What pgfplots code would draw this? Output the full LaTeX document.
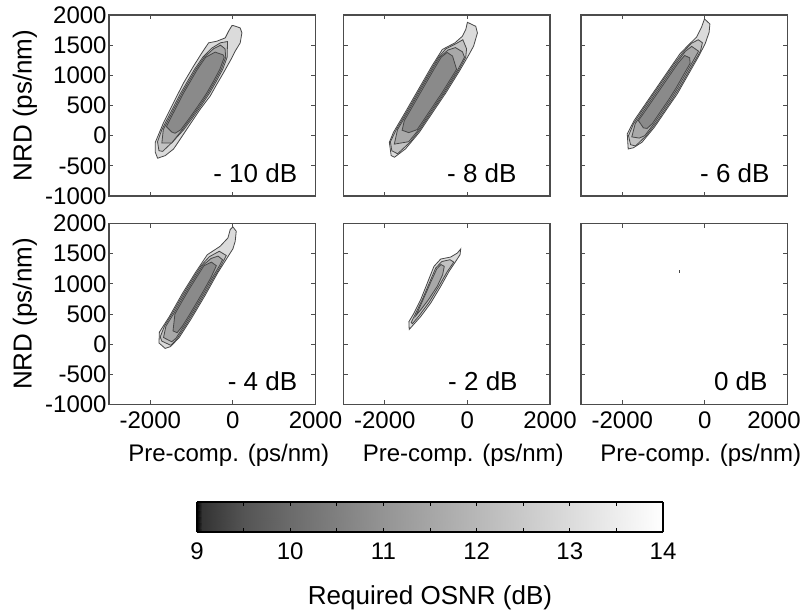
\documentclass[border=0pt]{standalone}
\usepackage{fontspec}
\setmainfont{Liberation Sans}
\usepackage{pgfplots}
\pgfplotsset{compat=1.18}

% fill shades of the contour bands (outer to inner) and line colours
\definecolor{lvA}{gray}{0.86}
\definecolor{lvB}{gray}{0.76}
\definecolor{lvC}{gray}{0.66}
\definecolor{lvD}{gray}{0.54}
\definecolor{cline}{gray}{0.28}
\definecolor{frame}{gray}{0.30}

\tikzset{tag/.style={anchor=east, inner sep=0pt, font=\fontsize{13}{15}\selectfont}}

\pgfplotsset{
  colormap={osnr}{gray(0cm)=(0); gray(1cm)=(0.2); gray(10cm)=(0.33); gray(20cm)=(0.42);
    gray(40cm)=(0.58); gray(60cm)=(0.72); gray(80cm)=(0.86); gray(100cm)=(1)},
  panel/.style={
    scale only axis, width=103.25pt, height=90.5pt, anchor=south west,
    xmin=-3000, xmax=2000, ymin=-1000, ymax=2000,
    xtick={-2000,0,2000}, ytick={-1000,-500,...,2000},
    tick align=inside, major tick length=2.2pt,
    axis line style={frame, line width=0.6pt},
    every tick/.style={frame, line width=0.5pt},
    tick label style={font=\fontsize{12}{14}\selectfont},
    yticklabel style={inner xsep=1pt},
    /pgf/number format/assume math mode=true,
    /pgf/number format/1000 sep={},
    xlabel style={font=\fontsize{12}{14}\selectfont, at={(axis description cs:0.58,-0.279)}, anchor=center},
    ylabel style={font=\fontsize{13}{15}\selectfont, at={(axis description cs:-0.407,0.5)}, anchor=center},
  },
  notx/.style={xticklabels={}},
  noty/.style={yticklabels={}},
  bandA/.style={fill=lvA, draw=cline, line width=0.4pt},
  bandB/.style={fill=lvB, draw=cline, line width=0.4pt},
  bandC/.style={fill=lvC, draw=cline, line width=0.4pt},
  bandD/.style={fill=lvD, draw=cline, line width=0.4pt},
}

\begin{document}
\begin{tikzpicture}
\path[use as bounding box] (0pt,0pt) rectangle (402pt,-306pt);

% ---------------- -10 dB ----------------
\begin{axis}[panel, notx, at={(54.5pt,-98pt)}, ylabel={NRD (ps/nm)}]
\addplot[bandA] coordinates {(16,1824) (177,1786) (218,1703) (177,1538) (56,1401) (-24,1291) (-226,1044) (-400,840) (-548,659) (-790,440) (-1113,110) (-1435,-220) (-1637,-330) (-1823,-374) (-1879,-275) (-1879,-110) (-1677,220) (-1500,460) (-1355,659) (-1190,880) (-952,1154) (-750,1374) (-589,1538) (-387,1566) (-185,1621) (-105,1731) (-24,1824)} -- cycle;
\addplot[bandB] coordinates {(-1790,-250) (-1825,-100) (-1720,100) (-1570,300) (-1420,500) (-1270,700) (-1100,900) (-930,1100) (-729,1300) (-514,1450) (-300,1540) (-130,1560) (-134,1450) (-139,1300) (-246,1100) (-402,900) (-569,700) (-766,500) (-972,300) (-1189,100) (-1455,-100) (-1700,-260)} -- cycle;
\addplot[bandC] coordinates {(-1720,-120) (-1685,100) (-1535,300) (-1385,500) (-1235,700) (-1065,900) (-895,1100) (-694,1300) (-470,1440) (-300,1500) (-190,1440) (-174,1300) (-281,1100) (-437,900) (-604,700) (-801,500) (-1007,300) (-1224,100) (-1480,-120)} -- cycle;
\addplot[bandD] coordinates {(-1480,60) (-1610,150) (-1500,300) (-1350,500) (-1200,700) (-1030,900) (-860,1100) (-659,1300) (-430,1385) (-240,1340) (-209,1300) (-316,1100) (-472,900) (-639,700) (-836,500) (-1042,300) (-1259,100) (-1400,40)} -- cycle;
\node[tag] at (rel axis cs:0.913,0.125) {- 10 dB};
\end{axis}

% ---------------- -8 dB ----------------
\begin{axis}[panel, notx, noty, at={(171.75pt,-98pt)}]
\addplot[bandA] coordinates {(0,1879) (202,1813) (243,1703) (150,1484) (40,1346) (-193,1071) (-517,714) (-841,385) (-1165,55) (-1500,-220) (-1765,-357) (-1846,-330) (-1890,-110) (-1791,55) (-1507,385) (-1184,769) (-860,1154) (-607,1429) (-303,1538) (-121,1648) (-40,1758)} -- cycle;
\addplot[bandB] coordinates {(-1830,-250) (-1865,-100) (-1722,100) (-1550,300) (-1380,500) (-1212,700) (-1044,900) (-875,1100) (-701,1300) (-522,1440) (-290,1520) (-110,1590) (-20,1440) (-40,1300) (-197,1100) (-378,900) (-561,700) (-758,500) (-954,300) (-1151,100) (-1377,-100) (-1690,-300)} -- cycle;
\addplot[bandC] coordinates {(-1770,-140) (-1692,100) (-1520,300) (-1350,500) (-1182,700) (-1014,900) (-845,1100) (-671,1300) (-470,1420) (-290,1460) (-120,1390) (-70,1300) (-227,1100) (-408,900) (-591,700) (-788,500) (-984,300) (-1181,100) (-1420,-100)} -- cycle;
\addplot[bandD] coordinates {(-1580,90) (-1528,250) (-1315,500) (-1147,700) (-979,900) (-810,1100) (-636,1300) (-490,1380) (-360,1320) (-262,1100) (-443,900) (-626,700) (-823,500) (-1019,300) (-1216,100) (-1420,50)} -- cycle;
\node[tag] at (rel axis cs:0.84,0.125) {- 8 dB};
\end{axis}

% ---------------- -6 dB ----------------
\begin{axis}[panel, notx, noty, at={(290.5pt,-98pt)}]
\addplot[bandA] coordinates {(-10,1935) (121,1851) (102,1713) (4,1520) (-163,1301) (-393,1025) (-669,693) (-947,417) (-1223,140) (-1522,-108) (-1730,-200) (-1857,-221) (-1880,30) (-1714,251) (-1438,527) (-1160,804) (-883,1080) (-605,1356) (-411,1494) (-204,1632) (-82,1798)} -- cycle;
\addplot[bandB] coordinates {(-1800,-150) (-1850,0) (-1727,200) (-1535,400) (-1335,600) (-1134,800) (-933,1000) (-732,1200) (-506,1400) (-330,1530) (-160,1590) (-60,1540) (-108,1400) (-277,1200) (-444,1000) (-610,800) (-793,600) (-994,400) (-1193,200) (-1420,0) (-1680,-170)} -- cycle;
\addplot[bandC] coordinates {(-1770,-20) (-1687,200) (-1495,400) (-1295,600) (-1094,800) (-893,1000) (-692,1200) (-471,1400) (-320,1480) (-153,1400) (-317,1200) (-484,1000) (-650,800) (-833,600) (-1034,400) (-1233,200) (-1455,0) (-1590,-40)} -- cycle;
\addplot[bandD] coordinates {(-1490,130) (-1610,250) (-1455,400) (-1255,600) (-1054,800) (-853,1000) (-652,1200) (-490,1330) (-370,1290) (-357,1200) (-524,1000) (-690,800) (-873,600) (-1074,400) (-1273,200) (-1400,120)} -- cycle;
\node[tag] at (rel axis cs:0.915,0.125) {- 6 dB};
\end{axis}

% ---------------- -4 dB ----------------
\begin{axis}[panel, at={(54.5pt,-202.25pt)}, xlabel={Pre-comp. (ps/nm)}, ylabel={NRD (ps/nm)}]
\addplot[bandA] coordinates {(0,1944) (81,1872) (56,1706) (0,1580) (-130,1440) (-370,1180) (-680,800) (-1010,420) (-1300,110) (-1510,-40) (-1640,-70) (-1790,20) (-1780,200) (-1540,456) (-1220,844) (-890,1206) (-620,1483) (-310,1622) (-120,1761) (-65,1900)} -- cycle;
\addplot[bandB] coordinates {(-1720,50) (-1760,120) (-1656,300) (-1474,500) (-1309,700) (-1139,900) (-957,1100) (-772,1300) (-570,1450) (-330,1540) (-160,1470) (-289,1300) (-465,1100) (-628,900) (-797,700) (-971,500) (-1152,300) (-1343,100) (-1500,-20)} -- cycle;
\addplot[bandC] coordinates {(-1680,110) (-1621,300) (-1439,500) (-1274,700) (-1104,900) (-922,1100) (-737,1300) (-530,1420) (-360,1460) (-250,1400) (-324,1300) (-500,1100) (-663,900) (-832,700) (-1006,500) (-1187,300) (-1378,100) (-1480,40)} -- cycle;
\addplot[bandD] coordinates {(-1450,220) (-1404,500) (-1239,700) (-1069,900) (-887,1100) (-702,1300) (-520,1360) (-400,1300) (-535,1100) (-698,900) (-867,700) (-1041,500) (-1222,300) (-1350,190)} -- cycle;
\node[tag] at (rel axis cs:0.913,0.13) {- 4 dB};
\end{axis}

% ---------------- -2 dB ----------------
\begin{axis}[panel, noty, at={(171.75pt,-202.25pt)}, xlabel={Pre-comp. (ps/nm)}]
\addplot[bandA] coordinates {(-162,1578) (-178,1483) (-283,1372) (-445,1206) (-648,956) (-891,678) (-1134,456) (-1336,300) (-1409,244) (-1417,372) (-1296,511) (-1134,733) (-972,1011) (-810,1289) (-648,1411) (-405,1444) (-243,1511)} -- cycle;
\addplot[bandB] coordinates {(-1360,360) (-1240,530) (-1085,750) (-925,1010) (-770,1260) (-620,1370) (-420,1400) (-330,1360) (-490,1200) (-690,960) (-930,690) (-1170,470) (-1330,340)} -- cycle;
\addplot[bandC] coordinates {(-1250,470) (-1150,620) (-1020,820) (-880,1040) (-740,1250) (-640,1320) (-560,1290) (-600,1150) (-730,960) (-940,740) (-1140,560)} -- cycle;
\node[tag] at (rel axis cs:0.845,0.13) {- 2 dB};
\end{axis}

% ---------------- 0 dB ----------------
\begin{axis}[panel, noty, at={(290.5pt,-202.25pt)}, xlabel={Pre-comp. (ps/nm)},
  xticklabels={-2000,0,{\hspace*{-13.5pt}2000}}]
\addplot[cline, line width=0.5pt] coordinates {(-605,1180) (-605,1230)};
\node[tag] at (rel axis cs:0.905,0.13) {0 dB};
\end{axis}

% ---------------- colour scale ----------------
\begin{axis}[scale only axis, width=233pt, height=15pt, anchor=south west,
  at={(98.5pt,-266pt)}, view={0}{90},
  xmin=9, xmax=14, ymin=0, ymax=1, ytick=\empty,
  xtick={9,...,14}, minor xtick={9.5,10.5,...,13.5},
  tick align=inside, major tick length=2pt, minor tick length=2pt,
  axis line style={black, line width=0.6pt},
  every tick/.style={black, line width=0.5pt},
  tick label style={font=\fontsize{12}{14}\selectfont},
  xticklabel style={yshift=-1.8pt},
  /pgf/number format/assume math mode=true,
  colormap name=osnr,
  xlabel={Required OSNR (dB)},
  xlabel style={font=\fontsize{13}{15}\selectfont, at={(axis description cs:0.5,-2.2)}, anchor=center}]
\addplot3[surf, shader=interp, point meta=x] coordinates {
(9,0,0) (9.05,0,0) (9.5,0,0) (10,0,0) (11,0,0) (12,0,0) (13,0,0) (14,0,0)

(9,1,0) (9.05,1,0) (9.5,1,0) (10,1,0) (11,1,0) (12,1,0) (13,1,0) (14,1,0)
};
\end{axis}
\end{tikzpicture}
\end{document}
